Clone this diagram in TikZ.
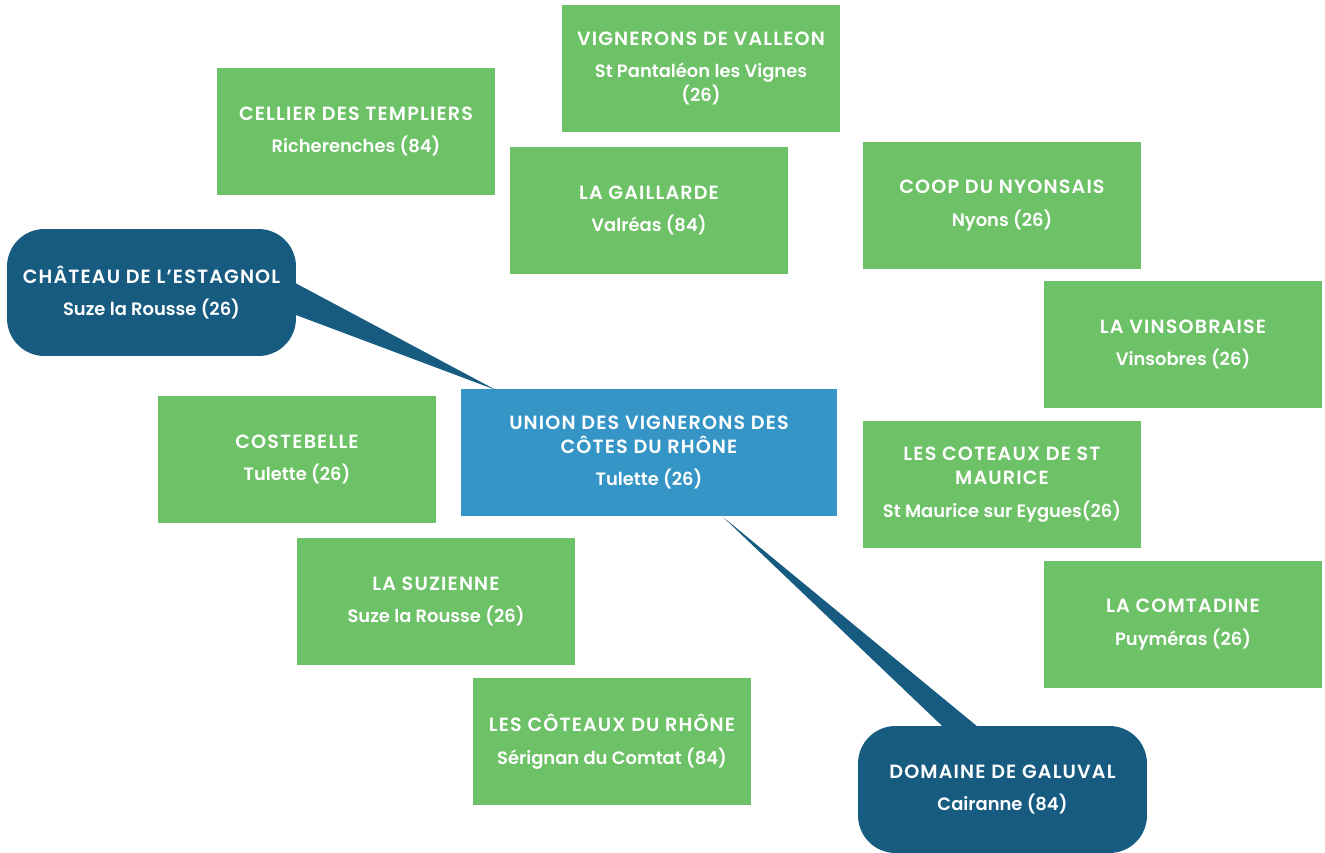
\documentclass[tikz,border=0pt]{standalone}
\usepackage{fontspec}
\setmainfont{Poppins SemiBold}
\usetikzlibrary{calc}
\definecolor{CaveGreen}{HTML}{6DC166}
\definecolor{CaveBlue}{HTML}{3595C7}
\definecolor{CaveNavy}{HTML}{175C80}
\newcommand{\cavetitle}[1]{{\fontsize{10.9}{13.6}\selectfont\addfontfeatures{LetterSpace=6}#1}}
\tikzset{
  cave/.style={fill=CaveGreen, text=white, minimum width=5.56cm, minimum height=2.54cm,
    align=center, inner sep=0pt, font=\fontsize{10.2}{13.6}\selectfont},
  unionbox/.style={cave, fill=CaveBlue, minimum width=7.52cm},
  bulle/.style={cave, fill=CaveNavy, rounded corners=0.75cm, minimum width=5.78cm},
}

\begin{document}
\begin{tikzpicture}[x=0.02cm, y=-0.02cm]
\useasboundingbox (0,0) rectangle (1325,852);

% caves around the union
\node[cave] (valleon) at (701,68.5) {\cavetitle{VIGNERONS DE VALLEON}\\[5pt]St Pantaléon les Vignes\\(26)};
\node[cave] (cellier) at (356,131.5) {\cavetitle{CELLIER DES TEMPLIERS}\\[5pt]Richerenches (84)};
\node[cave] (gaillarde) at (649,210.5) {\cavetitle{LA GAILLARDE}\\[5pt]Valréas (84)};
\node[cave] (nyonsais) at (1002,205.5) {\cavetitle{COOP DU NYONSAIS}\\[5pt]Nyons (26)};
\node[cave] (vinsobraise) at (1183,344.5) {\cavetitle{LA VINSOBRAISE}\\[5pt]Vinsobres (26)};
\node[cave] (costebelle) at (297,459.5) {\cavetitle{COSTEBELLE}\\[5pt]Tulette (26)};
\node[cave] (stmaurice) at (1002,484.5) {\cavetitle{LES COTEAUX DE ST}\\\cavetitle{MAURICE}\\[5pt]St Maurice sur Eygues(26)};
\node[cave] (suzienne) at (436,601.5) {\cavetitle{LA SUZIENNE}\\[5pt]Suze la Rousse (26)};
\node[cave] (comtadine) at (1183,624.5) {\cavetitle{LA COMTADINE}\\[5pt]Puyméras (26)};
\node[cave] (coteaux) at (612,741.5) {\cavetitle{LES CÔTEAUX DU RHÔNE}\\[5pt]Sérignan du Comtat (84)};

% central union
\node[unionbox] (union) at (649,452.5) {\cavetitle{UNION DES VIGNERONS DES}\\\cavetitle{CÔTES DU RHÔNE}\\[5pt]Tulette (26)};

% private estates with callouts
\node[bulle] (chateau) at (151.5,292.5) {\cavetitle{CHÂTEAU DE L’ESTAGNOL}\\[5pt]Suze la Rousse (26)};
\node[bulle] (galuval) at (1002.5,789.5) {\cavetitle{DOMAINE DE GALUVAL}\\[5pt]Cairanne (84)};

\coordinate (tipchateau) at (496,390);
\coordinate (tipgaluval) at (723,517);
\fill[CaveNavy] ($(chateau.east)+(-3,-10.5)$) -- (tipchateau) -- ($(chateau.east)+(-3,21.5)$) -- cycle;
\fill[CaveNavy] ($(galuval.north)+(-57.5,3)$) -- (tipgaluval) -- ($(galuval.north)+(-22.5,3)$) -- cycle;
\end{tikzpicture}
\end{document}
